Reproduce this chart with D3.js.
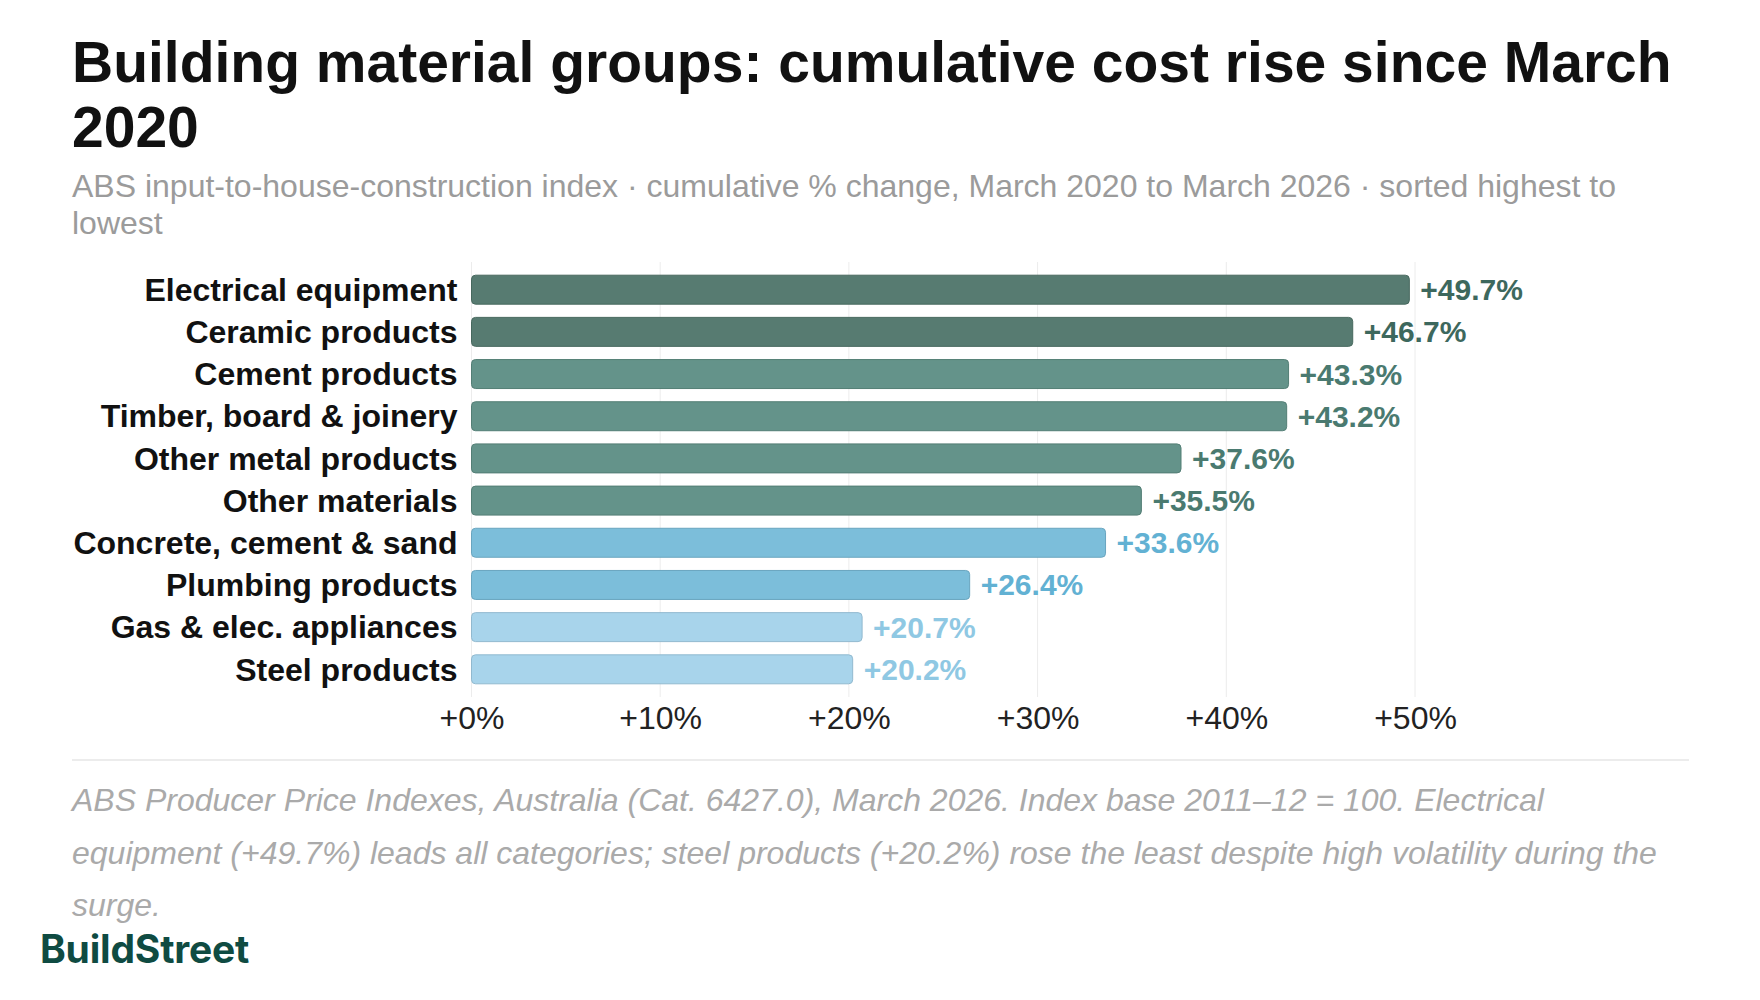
<!DOCTYPE html>
<html>
<head>
<meta charset="utf-8">
<script src="https://cdn.jsdelivr.net/npm/d3@7"></script>
<style>
  body { margin: 0; background: #fff; }
  svg { display: block; font-family: "Liberation Sans", Arial, sans-serif; }
</style>
</head>
<body>
<svg width="1760" height="1000"></svg>
<script>
// Chart data
const categories = [
  "Electrical equipment", "Ceramic products", "Cement products",
  "Timber, board & joinery", "Other metal products", "Other materials",
  "Concrete, cement & sand", "Plumbing products", "Gas & elec. appliances",
  "Steel products"
];
const values = [49.7, 46.7, 43.3, 43.2, 37.6, 35.5, 33.6, 26.4, 20.7, 20.2];
const tiers = ["top", "top", "high", "high", "high", "high", "mid", "mid", "low", "low"];
const tickValues = [0, 10, 20, 30, 40, 50];

const titleLines = ["Building material groups: cumulative cost rise since March", "2020"];
const subtitleLines = [
  "ABS input-to-house-construction index · cumulative % change, March 2020 to March 2026 · sorted highest to",
  "lowest"
];
const noteLines = [
  "ABS Producer Price Indexes, Australia (Cat. 6427.0), March 2026. Index base 2011–12 = 100. Electrical",
  "equipment (+49.7%) leads all categories; steel products (+20.2%) rose the least despite high volatility during the",
  "surge."
];

const barFill = { top: "#50766b", high: "#5e8f85", mid: "#77bbd8", low: "#a4d2ea" };
const labelFill = { top: "#3d685d", high: "#4a7a70", mid: "#62b1d3", low: "#8fc8e3" };

const data = categories.map((c, i) => ({ name: c, value: values[i], tier: tiers[i] }));

const svg = d3.select("svg");
const left = 72, right = 1689;

// Title + subtitle
svg.append("g").selectAll("text")
  .data(titleLines)
  .enter().append("text")
  .attr("x", left)
  .attr("y", (d, i) => 82 + i * 65)
  .attr("font-size", 57)
  .attr("font-weight", 700)
  .attr("fill", "#111")
  .text(d => d);

svg.append("g").selectAll("text")
  .data(subtitleLines)
  .enter().append("text")
  .attr("x", left)
  .attr("y", (d, i) => 197 + i * 37)
  .attr("font-size", 32)
  .attr("fill", "#9b9b9b")
  .text(d => d);

// Scales
const x = d3.scaleLinear().domain([0, 55]).range([471.5, 471.5 + 55 * 18.87]);
const y = d3.scaleBand().domain(categories).range([262, 697]).padding(0.313);

const g = svg.append("g");

// Gridlines
g.selectAll(".grid")
  .data(tickValues)
  .enter().append("line")
  .attr("class", "grid")
  .attr("x1", d => x(d)).attr("x2", d => x(d))
  .attr("y1", y.range()[0]).attr("y2", y.range()[1])
  .attr("stroke", "#ececec")
  .attr("stroke-width", 1);

// Bars
g.selectAll(".bar")
  .data(data)
  .enter().append("rect")
  .attr("class", "bar")
  .attr("x", x(0))
  .attr("y", d => y(d.name))
  .attr("width", d => x(d.value) - x(0))
  .attr("height", y.bandwidth())
  .attr("rx", 4)
  .attr("fill", d => barFill[d.tier])
  .attr("fill-opacity", 0.96)
  .attr("stroke", d => d3.color(barFill[d.tier]).darker(0.35))
  .attr("stroke-width", 1);

// Category labels
g.selectAll(".cat")
  .data(data)
  .enter().append("text")
  .attr("class", "cat")
  .attr("x", x(0) - 14)
  .attr("y", d => y(d.name) + y.bandwidth() / 2)
  .attr("dy", "0.35em")
  .attr("text-anchor", "end")
  .attr("font-size", 32)
  .attr("font-weight", 700)
  .attr("fill", "#111")
  .text(d => d.name);

// Value labels
g.selectAll(".val")
  .data(data)
  .enter().append("text")
  .attr("class", "val")
  .attr("x", d => x(d.value) + 11)
  .attr("y", d => y(d.name) + y.bandwidth() / 2)
  .attr("dy", "0.35em")
  .attr("font-size", 30)
  .attr("font-weight", 700)
  .attr("fill", d => labelFill[d.tier])
  .text(d => `+${d.value.toFixed(1)}%`);

// X axis
const axis = g.append("g")
  .attr("transform", `translate(0,${y.range()[1]})`)
  .call(d3.axisBottom(x).tickValues(tickValues).tickSize(0).tickPadding(9)
    .tickFormat(d => `+${d}%`));
axis.select(".domain").remove();
axis.selectAll("text")
  .attr("font-family", "'Liberation Sans', Arial, sans-serif")
  .attr("font-size", 32)
  .attr("fill", "#222");

// Separator
svg.append("line")
  .attr("x1", left).attr("x2", right)
  .attr("y1", 760).attr("y2", 760)
  .attr("stroke", "#e6e6e6")
  .attr("stroke-width", 1.5);

// Note
svg.append("g").selectAll("text")
  .data(noteLines)
  .enter().append("text")
  .attr("x", left)
  .attr("y", (d, i) => 811 + i * 52.5)
  .attr("font-size", 32)
  .attr("font-style", "italic")
  .attr("fill", "#aaaaaa")
  .text(d => d);

// Brand
svg.append("text")
  .attr("x", 40)
  .attr("y", 963)
  .attr("font-family", "Inter, 'Liberation Sans', sans-serif")
  .attr("font-size", 39)
  .attr("font-weight", 700)
  .attr("letter-spacing", -0.2)
  .attr("fill", "#0f4b42")
  .text("BuildStreet");
</script>
</body>
</html>
